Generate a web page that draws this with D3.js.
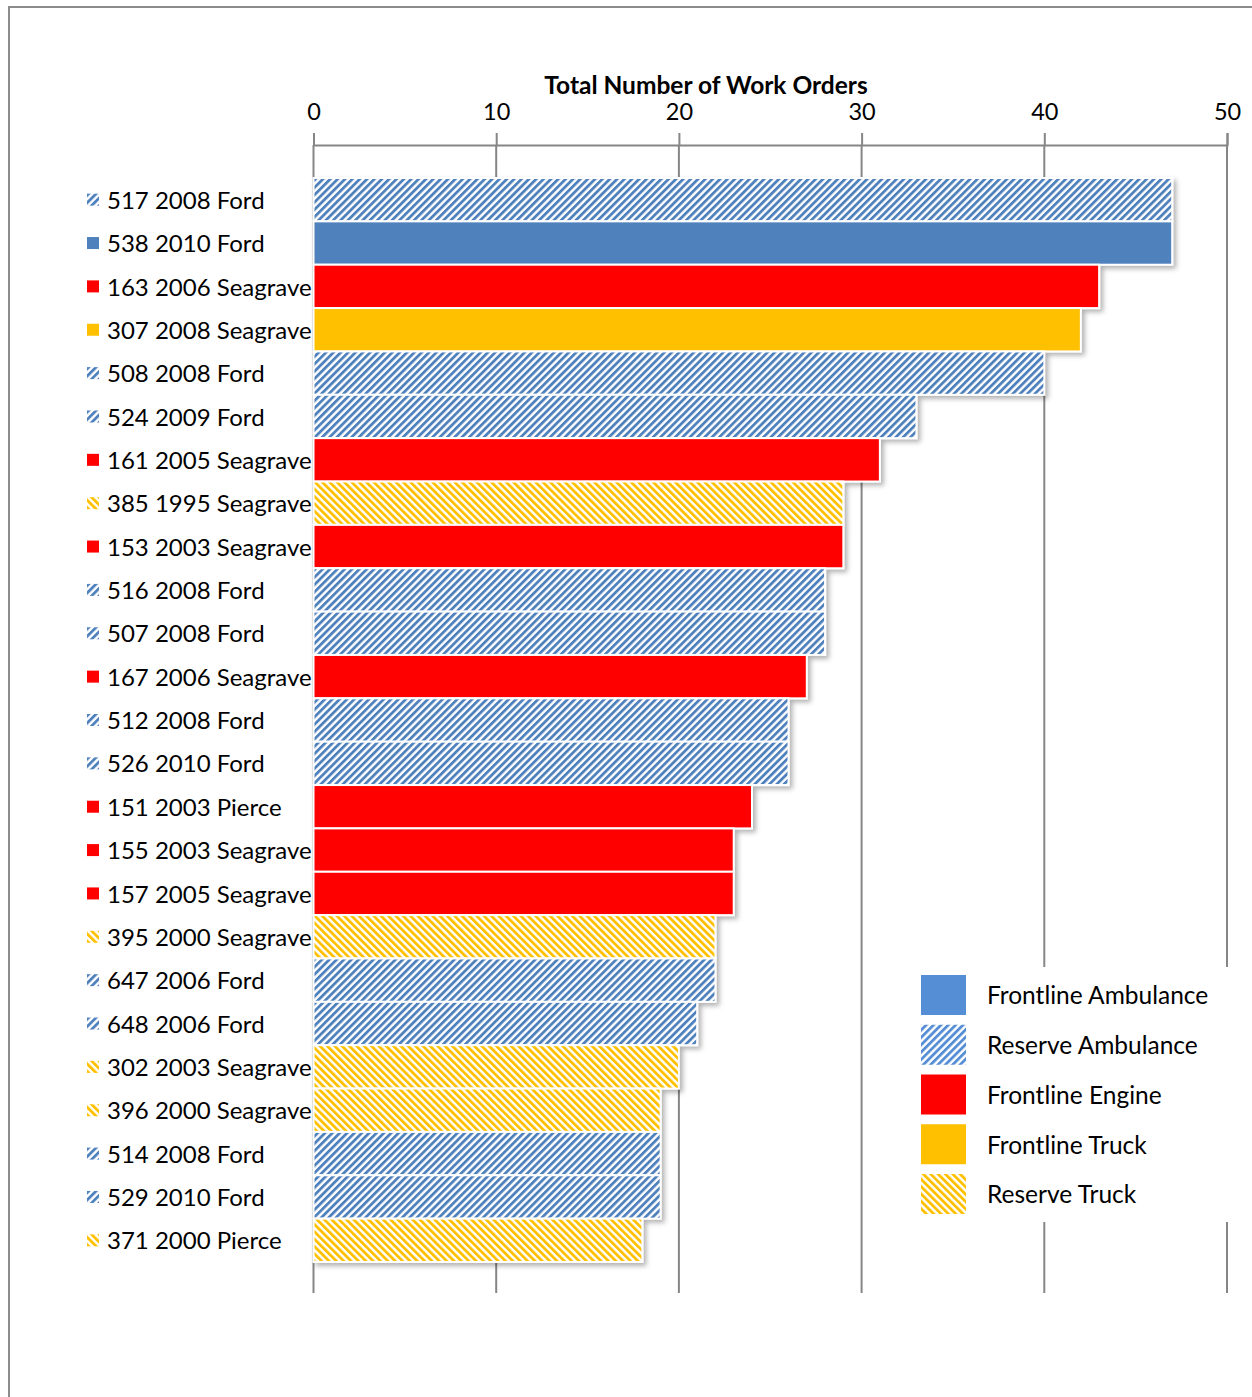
<!DOCTYPE html>
<html lang="en">
  <head>
    <meta charset="UTF-8" />
    <title>Total Number of Work Orders</title>
    <script src="https://d3js.org/d3.v7.min.js"></script>
    <style>
      body {
        margin: 0;
        background: #fff;
      }
      svg text {
        font-family: Lato, 'Open Sans', sans-serif;
        fill: #000;
      }
    </style>
  </head>
  <body>
    <div id="chart"></div>
    <script>
      // vehicle labels, top to bottom
      const units = [
        '517 2008 Ford', '538 2010 Ford', '163 2006 Seagrave', '307 2008 Seagrave',
        '508 2008 Ford', '524 2009 Ford', '161 2005 Seagrave', '385 1995 Seagrave',
        '153 2003 Seagrave', '516 2008 Ford', '507 2008 Ford', '167 2006 Seagrave',
        '512 2008 Ford', '526 2010 Ford', '151 2003 Pierce', '155 2003 Seagrave',
        '157 2005 Seagrave', '395 2000 Seagrave', '647 2006 Ford', '648 2006 Ford',
        '302 2003 Seagrave', '396 2000 Seagrave', '514 2008 Ford', '529 2010 Ford',
        '371 2000 Pierce'
      ];
      const unitTypes = [
        'Reserve Ambulance', 'Frontline Ambulance', 'Frontline Engine', 'Frontline Truck',
        'Reserve Ambulance', 'Reserve Ambulance', 'Frontline Engine', 'Reserve Truck',
        'Frontline Engine', 'Reserve Ambulance', 'Reserve Ambulance', 'Frontline Engine',
        'Reserve Ambulance', 'Reserve Ambulance', 'Frontline Engine', 'Frontline Engine',
        'Frontline Engine', 'Reserve Truck', 'Reserve Ambulance', 'Reserve Ambulance',
        'Reserve Truck', 'Reserve Truck', 'Reserve Ambulance', 'Reserve Ambulance',
        'Reserve Truck'
      ];
      const workOrders = [47, 47, 43, 42, 40, 33, 31, 29, 29, 28, 28, 27, 26, 26, 24, 23, 23, 22, 22, 21, 20, 19, 19, 19, 18];
      const legendTypes = ['Frontline Ambulance', 'Reserve Ambulance', 'Frontline Engine', 'Frontline Truck', 'Reserve Truck'];
      const xTicks = [0, 10, 20, 30, 40, 50];

      const width = 1252;
      const height = 1397;

      const svg = d3
        .select('#chart')
        .append('svg')
        .attr('width', width)
        .attr('height', height);

      const defs = svg.append('defs');

      // hatch patterns (reserve units)
      function hatch(id, color, angle) {
        const p = defs
          .append('pattern')
          .attr('id', id)
          .attr('patternUnits', 'userSpaceOnUse')
          .attr('width', 5.2)
          .attr('height', 5.2)
          .attr('patternTransform', `rotate(${angle})`);
        p.append('rect').attr('width', 5.2).attr('height', 5.2).attr('fill', '#fff');
        p.append('rect').attr('width', 2.8).attr('height', 5.2).attr('fill', color);
      }
      hatch('hatch-blue', '#4f81bd', 45);
      hatch('hatch-blue-legend', '#558ed5', 45);
      hatch('hatch-gold', '#ffc000', -45);

      const shadow = defs
        .append('filter')
        .attr('id', 'shadow')
        .attr('x', '-5%')
        .attr('y', '-20%')
        .attr('width', '120%')
        .attr('height', '160%');
      shadow
        .append('feDropShadow')
        .attr('dx', 3)
        .attr('dy', 3)
        .attr('stdDeviation', 2.5)
        .attr('flood-color', '#000')
        .attr('flood-opacity', 0.3);

      const barFill = {
        'Frontline Ambulance': '#4f81bd',
        'Reserve Ambulance': 'url(#hatch-blue)',
        'Frontline Engine': '#ff0000',
        'Frontline Truck': '#ffc000',
        'Reserve Truck': 'url(#hatch-gold)'
      };
      const legendFill = {
        'Frontline Ambulance': '#558ed5',
        'Reserve Ambulance': 'url(#hatch-blue-legend)',
        'Frontline Engine': '#ff0000',
        'Frontline Truck': '#ffc000',
        'Reserve Truck': 'url(#hatch-gold)'
      };

      // outer frame
      svg
        .append('rect')
        .attr('x', 9)
        .attr('y', 7)
        .attr('width', 1300)
        .attr('height', 1450)
        .attr('fill', 'none')
        .attr('stroke', '#8c8c8c')
        .attr('stroke-width', 2);

      const x = d3.scaleLinear().domain([0, 50]).range([313.5, 1227]);
      const y = d3.scaleBand().domain(units).range([178, 1262]).padding(0);

      const axisTop = 145;
      const plotBottom = 1293;

      // gridlines
      svg
        .append('g')
        .selectAll('line')
        .data(xTicks)
        .join('line')
        .attr('x1', (d) => x(d))
        .attr('x2', (d) => x(d))
        .attr('y1', axisTop)
        .attr('y2', plotBottom)
        .attr('stroke', '#868686')
        .attr('stroke-width', 2);

      // top axis
      const axis = svg
        .append('g')
        .attr('transform', `translate(0,${axisTop})`)
        .call(d3.axisTop(x).tickValues(xTicks).tickSize(12).tickPadding(13));
      axis.select('.domain').attr('stroke', '#868686').attr('stroke-width', 2);
      axis.selectAll('.tick line').attr('stroke', '#868686').attr('stroke-width', 2);
      axis
        .selectAll('.tick text')
        .style('font-family', 'Lato, sans-serif')
        .style('font-size', '23.5px')
        .attr('fill', '#000');

      svg
        .append('text')
        .attr('x', 706)
        .attr('y', 94)
        .attr('text-anchor', 'middle')
        .style('font-size', '24.5px')
        .style('font-weight', 'bold')
        .text('Total Number of Work Orders');

      // bars
      svg
        .append('g')
        .attr('filter', 'url(#shadow)')
        .selectAll('rect')
        .data(units)
        .join('rect')
        .attr('x', x(0))
        .attr('y', (d) => y(d))
        .attr('width', (d, i) => x(workOrders[i]) - x(0))
        .attr('height', y.bandwidth())
        .attr('fill', (d, i) => barFill[unitTypes[i]])
        .attr('stroke', '#fff')
        .attr('stroke-width', 2);

      // category labels with small swatches
      const labels = svg
        .append('g')
        .selectAll('g')
        .data(units)
        .join('g')
        .attr('transform', (d) => `translate(0,${y(d) + y.bandwidth() / 2})`);
      labels
        .append('rect')
        .attr('x', 87)
        .attr('y', -6)
        .attr('width', 12)
        .attr('height', 12)
        .attr('fill', (d, i) => barFill[unitTypes[i]]);
      labels
        .append('text')
        .attr('x', 107)
        .attr('dy', '0.38em')
        .style('font-size', '24px')
        .text((d) => d);

      // legend
      const legend = svg.append('g');
      legend
        .append('rect')
        .attr('x', 905)
        .attr('y', 967)
        .attr('width', 340)
        .attr('height', 255)
        .attr('fill', '#fff');
      const ly = d3.scalePoint().domain(legendTypes).range([995, 1194]);
      const items = legend
        .selectAll('g')
        .data(legendTypes)
        .join('g')
        .attr('transform', (d) => `translate(0,${ly(d)})`);
      items
        .append('rect')
        .attr('x', 921)
        .attr('y', -20)
        .attr('width', 45)
        .attr('height', 40)
        .attr('fill', (d) => legendFill[d]);
      items
        .append('text')
        .attr('x', 987)
        .attr('dy', '0.38em')
        .style('font-size', '24.5px')
        .text((d) => d);
    </script>
  </body>
</html>
